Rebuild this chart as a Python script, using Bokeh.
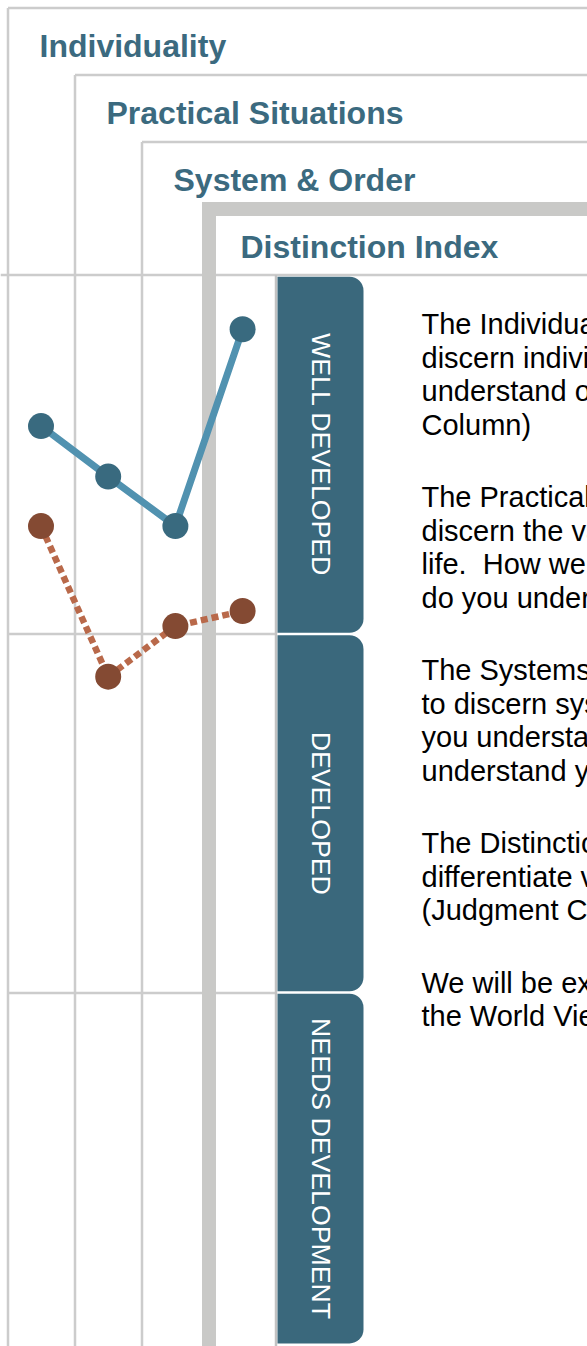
import math
from bokeh.plotting import figure
from bokeh.models import Range1d
from bokeh.core.properties import value
from bokeh.embed import file_html
from bokeh.resources import INLINE

# ---------------- data ----------------
dimensions = ["Individuality", "Practical Situations", "System & Order", "Distinction Index"]
dim_index = [0, 1, 2, 3]
series_solid = [86.0, 81.3, 76.7, 95.0]    # solid blue line
series_dotted = [76.7, 62.7, 67.4, 68.8]   # dotted orange line
levels = ["NEEDS DEVELOPMENT", "DEVELOPED", "WELL DEVELOPED"]
level_bounds = [0.0, 33.33, 66.67, 100.0]
paragraphs = [
    ["The Individuality Index measures your ability to",
     "discern individuals.\u00a0 How well do you see and",
     "understand others and yourself? (Intrinsic",
     "Column)"],
    ["The Practical Situations Index measures your ability to",
     "discern the value of practical situations in everyday",
     "life.\u00a0 How well do you see the practical world?\u00a0 How",
     "do you understand it? (Extrinsic Column)"],
    ["The Systems Index measures your ability",
     "to discern systems and order.\u00a0 How well do",
     "you understand structure and rules?\u00a0 How well do you",
     "understand your own thinking? (Systemic Column)"],
    ["The Distinction Index measures your ability to",
     "differentiate values within each dimension.",
     "(Judgment Column)"],
    ["We will be exploring these and more in",
     "the World View section of your report."],
]

# ---------------- styles ----------------
TEAL = "#3a687c"
TITLE = "#3b6a7f"
BLUE_LINE = "#5192b0"
BLUE_DOT = "#396a7f"
ORANGE_LINE = "#b9694a"
ORANGE_DOT = "#844a33"
GRID = "#cccccc"
THICK = "#c9c9c7"
FONT = value("Liberation Sans")

W, H = 587, 1346
OFF = 0

# layout helpers: page pixel -> data coordinate
COL0, COLW = 40.5, 67.2
YBASE, YPX = 1350.5, 10.755


def X(px):
    return (px - COL0) / COLW


def Y(py):
    return (YBASE - py) / YPX


p = figure(width=W, height=H, x_range=Range1d(X(OFF), X(OFF + W)),
           y_range=Range1d(Y(OFF + H), Y(OFF)),
           x_axis_type=None, y_axis_type=None,
           toolbar_location=None, output_backend="svg",
           min_border=0, outline_line_color=None,
           background_fill_color="white", border_fill_color="white")

BOTTOM = 1360
RIGHT = 600
# nested thin frames
for edge in [7.5, 74.5, 141.5]:
    p.segment(x0=[X(edge), X(edge)], y0=[Y(edge), Y(edge)],
              x1=[X(edge), X(RIGHT)], y1=[Y(BOTTOM), Y(edge)],
              line_color=GRID, line_width=2.5, line_cap="butt")

# level boundary lines
p.segment(x0=[X(0)], y0=[Y(274.5)], x1=[X(RIGHT)], y1=[Y(274.5)],
          line_color=GRID, line_width=2.5)
p.segment(x0=[X(7), X(7)], y0=[Y(633.5), Y(992.5)],
          x1=[X(276), X(276)], y1=[Y(633.5), Y(992.5)],
          line_color=GRID, line_width=2.5)
p.segment(x0=[X(275.5)], y0=[Y(274.5)], x1=[X(275.5)], y1=[Y(BOTTOM)],
          line_color="#c2c2c2", line_width=2.5)

# thick inner frame
p.segment(x0=[X(208.5), X(201.5)], y0=[Y(201.5), Y(208.5)],
          x1=[X(208.5), X(RIGHT)], y1=[Y(BOTTOM), Y(208.5)],
          line_color=THICK, line_width=14, line_cap="butt")

# level tabs
gap = 1.2 / YPX
tab_bottom = [level_bounds[0] + 0.7] + [b + gap for b in level_bounds[1:3]]
tab_top = [b - gap for b in level_bounds[1:4]]
p.quad(left=[X(277)] * 3, right=[X(363)] * 3, bottom=tab_bottom, top=tab_top,
       fill_color=TEAL, line_color=None, border_radius=(0, 14, 14, 0))
tab_mid = [(a + b) / 2 for a, b in zip(tab_bottom, tab_top)]
p.text(x=[X(320)] * 3, y=tab_mid, text=levels, angle=-math.pi / 2,
       text_align="center", text_baseline="middle", text_color="white",
       text_font=FONT, text_font_size="26.7px")

# dimension titles
p.text(x=[X(39 + 67 * i) for i in range(4)],
       y=[Y(45 + 67 * i) for i in range(4)],
       text=dimensions, text_font=FONT, text_font_size="32px",
       text_font_style="bold", text_color=TITLE,
       text_align="left", text_baseline="alphabetic")

# explanatory paragraphs
xs, ys, ts = [], [], []
base = 323.5
for para in paragraphs:
    for line in para:
        xs.append(X(421))
        ys.append(Y(base))
        ts.append(line)
        base += 33.5
    base += 72.5 - 33.5
p.text(x=xs, y=ys, text=ts, text_font=FONT, text_font_size="29px",
       text_color="#000000", text_align="left", text_baseline="alphabetic")

# series
p.line(dim_index, series_solid, line_color=BLUE_LINE, line_width=7)
p.line(dim_index, series_dotted, line_color=ORANGE_LINE, line_width=6.5,
       line_dash="7 4")
p.scatter(dim_index, series_solid, size=26, fill_color=BLUE_DOT, line_color=None)
p.scatter(dim_index, series_dotted, size=26, fill_color=ORANGE_DOT, line_color=None)

open("out.html", "w").write(file_html(p, INLINE))
